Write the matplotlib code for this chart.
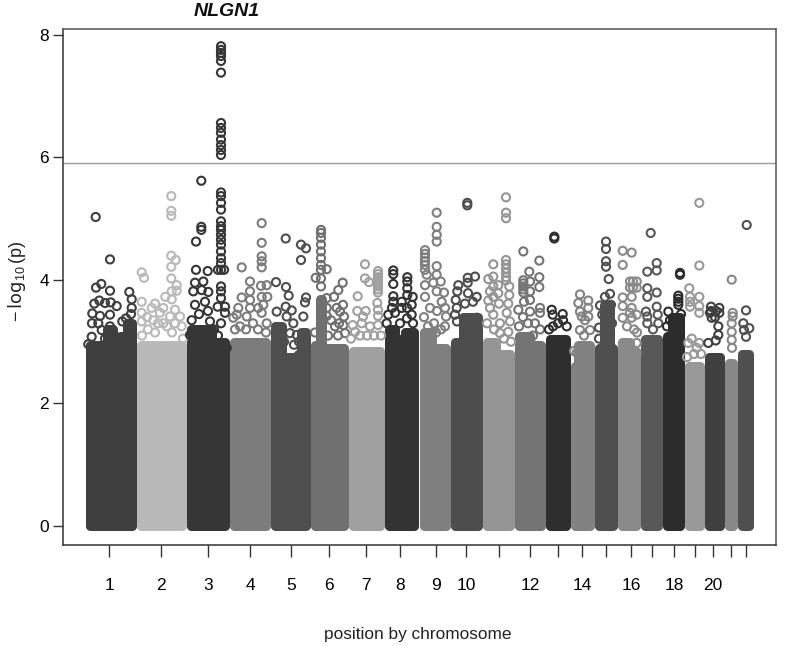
import matplotlib
matplotlib.use('Agg')
import matplotlib.pyplot as plt

plt.rcParams['font.family'] = ['Liberation Sans', 'DejaVu Sans']
plt.rcParams['mathtext.default'] = 'regular'

# Position is in plot units read along the x axis, values are -log10(p)
tick_pos = [109, 161, 208, 250, 291, 329, 366, 400, 436, 466, 499, 530, 558, 582, 606, 631, 652, 674, 695, 713, 731, 746]
tick_labels = ['1', '2', '3', '4', '5', '6', '7', '8', '9', '10', '', '12', '', '14', '', '16', '', '18', '', '20', '', '']
threshold = 5.91

chrom_colors = ['#3f3f3f', '#b9b9b9', '#363636', '#7c7c7c', '#4e4e4e', '#707070', '#a0a0a0', '#333333',
                '#7f7f7f', '#4d4d4d', '#959595', '#747474', '#2e2e2e', '#828282', '#4f4f4f', '#8a8a8a',
                '#585858', '#2c2c2c', '#999999', '#404040', '#888888', '#4f4f4f']

# solid body of each chromosome: (start, height) steps, last entry closes it
body = [
    [(89.5, 2.95), (101, 2.7), (107, 3.2), (113, 2.7), (120, 3.1), (127, 3.3), (131.5, 3.3)],
    [(140.5, 2.95), (181.5, 2.95)],
    [(190.5, 3.2), (212, 2.8), (216, 3.0), (224.5, 3.0)],
    [(233.5, 3.0), (265.5, 3.0)],
    [(274.5, 3.25), (282, 2.75), (298, 2.8), (301, 3.15), (305.5, 3.15)],
    [(314.5, 2.95), (320, 3.7), (322, 2.9), (343.5, 2.9)],
    [(352.5, 2.85), (379.5, 2.85)],
    [(388.5, 3.2), (395, 3.05), (405, 3.15), (413.5, 3.15)],
    [(423.5, 3.15), (432, 2.9), (445.5, 2.9)],
    [(454.5, 3.0), (463, 3.4), (477.5, 3.4)],
    [(486.5, 3.0), (496, 2.8), (509.5, 2.8)],
    [(518.5, 3.1), (530, 2.95), (540.5, 2.95)],
    [(549.5, 3.05), (565.5, 3.05)],
    [(574.5, 2.6), (578, 2.95), (589.5, 2.95)],
    [(598.5, 2.9), (604, 3.6), (610, 2.9), (612.5, 2.9)],
    [(621.5, 3.0), (630, 2.85), (635.5, 2.85)],
    [(644.5, 3.05), (657.5, 3.05)],
    [(666.5, 3.1), (672, 3.4), (679.5, 3.4)],
    [(688.5, 2.6), (699.5, 2.6)],
    [(708.5, 2.75), (719.5, 2.75)],
    [(728.5, 2.65), (732.5, 2.65)],
    [(741.5, 2.8), (748.5, 2.8)],
]

# single SNPs standing above the body
snps = [
    [(95.7, 5.03), (110, 4.34), (96, 3.88), (101.3, 3.94), (110, 3.83), (129.3, 3.81), (94.3, 3.62), (99.3, 3.67),
     (105, 3.63), (110.7, 3.64), (116.7, 3.58), (131.7, 3.69), (92.3, 3.46), (100, 3.42), (98.3, 3.3), (110, 3.44),
     (122.3, 3.33), (131.7, 3.55), (101.7, 3.19), (91.7, 3.08), (88.3, 2.96), (110, 2.87), (101.7, 2.82),
     (92, 3.3), (110, 3.25), (118, 3.05), (126, 3.38), (131, 3.45), (105, 3.05)],
    [(171.3, 5.37), (171.3, 5.13), (171.3, 5.05), (141.7, 4.13), (144, 4.04), (171.3, 4.4), (175.7, 4.33),
     (171.3, 4.22), (171.3, 4.03), (176.7, 3.92), (176.7, 3.83), (171.7, 3.82), (165.3, 3.73), (171.7, 3.69),
     (141.7, 3.65), (155, 3.62), (151.7, 3.55), (163.3, 3.55), (175, 3.52), (141.7, 3.47), (160, 3.47), (180, 3.41),
     (170, 3.41), (141.7, 3.33), (153.3, 3.35), (181.7, 3.25), (163.3, 3.3),
     (147, 3.4), (158, 3.3), (167, 3.25), (175, 3.3), (148, 3.2), (155, 3.15), (142, 3.1), (183, 3.05), (172, 3.15)],
    [(201.3, 5.62), (201.3, 4.87), (201.3, 4.82), (196, 4.63), (196, 4.17), (207.7, 4.15), (195, 3.96), (203.3, 3.98),
     (193.3, 3.82), (201.7, 3.84), (208.3, 3.81), (195, 3.6), (205, 3.65), (217.7, 3.57), (225, 3.57), (225, 3.47),
     (191.7, 3.35), (210, 3.33), (190, 3.11), (226.7, 2.9),
     (221, 7.81), (221, 7.75), (221, 7.7), (221, 7.65), (221, 7.57), (221, 7.38), (221, 6.56), (221, 6.48),
     (221, 6.4), (221, 6.29), (221, 6.2), (221, 6.12), (221, 6.04), (221, 5.43), (221, 5.37), (221, 5.26),
     (221, 5.15), (221, 4.96), (221, 4.88), (221, 4.82), (221, 4.74), (221, 4.66), (221, 4.58), (221, 4.47),
     (221, 4.36), (221, 4.28), (221, 4.17), (218, 4.17), (224, 4.17), (221, 3.9), (221, 3.82), (221, 3.71),
     (199, 3.45), (208, 3.5), (214, 3.2), (221, 3.3), (218, 3.1)],
    [(261.7, 4.93), (261.7, 4.61), (261.7, 4.39), (261.7, 4.31), (261.7, 4.21), (241.7, 4.21), (250, 3.98), (261, 3.91),
     (266.7, 3.92), (250, 3.82), (241.7, 3.72), (261.7, 3.73), (267.3, 3.73), (250, 3.68), (263.3, 3.6), (238.3, 3.55),
     (258.3, 3.55), (250, 3.55), (261.7, 3.47), (236.7, 3.44), (233.3, 3.39), (246.7, 3.41), (266.7, 3.3),
     (240, 3.25), (253, 3.3), (258, 3.2), (246, 3.2), (266, 3.15), (235, 3.2)],
    [(285.7, 4.68), (301, 4.58), (306, 4.52), (301, 4.33), (276, 3.97), (286, 3.89), (288.7, 3.75), (306, 3.72),
     (305, 3.64), (285.7, 3.57), (291.7, 3.51), (276.7, 3.49), (303.3, 3.41), (286.7, 3.41), (293.3, 3.3),
     (296.7, 3.11), (305, 3.03), (290, 3.14), (299, 3.0), (284, 3.0), (294, 2.95)],
    [(321, 4.82), (321, 4.77), (321, 4.69), (321, 4.58), (321, 4.47), (321, 4.36), (321, 4.25), (321, 4.17),
     (321, 4.03), (321, 3.9), (326.7, 4.18), (315.7, 4.04), (342.7, 3.96), (338.3, 3.84), (334, 3.73), (326.7, 3.71),
     (343, 3.6), (340, 3.49), (336.7, 3.55), (326.7, 3.55), (344, 3.41), (343.3, 3.27), (345, 3.14), (335, 3.25),
     (326.7, 3.42), (331, 3.35), (339, 3.3), (328, 3.1), (315, 3.15), (338, 3.1)],
    [(365, 4.26), (365, 4.03), (369, 3.97), (378, 4.15), (378, 4.1), (378, 4.05), (378, 4.0), (378, 3.95), (378, 3.9),
     (378, 3.85), (378, 3.8), (357.7, 3.74), (357.3, 3.5), (365.7, 3.5), (363, 3.41), (377.3, 3.63), (378, 3.52),
     (378, 3.42), (352.7, 3.27), (361.7, 3.3), (378, 3.27), (355, 3.16), (370, 3.25), (367, 3.1), (360, 3.1), (374, 3.1),
     (351, 3.05), (381, 3.1)],
    [(393.3, 4.16), (393.3, 4.1), (407.3, 4.05), (407.3, 3.98), (393.3, 3.94), (407.3, 3.87), (412.7, 3.73),
     (393.3, 3.74), (393.3, 3.65), (401.7, 3.65), (411.7, 3.6), (401.7, 3.55), (388.3, 3.44), (411.7, 3.44),
     (395, 3.47), (413, 3.3), (386.7, 3.3), (400, 3.3), (407.3, 3.76), (407, 3.55), (392, 3.55), (407, 3.38)],
    [(425, 4.49), (425, 4.43), (425, 4.37), (425, 4.31), (425, 4.25), (425, 4.17), (436.7, 5.1), (436.7, 4.87),
     (436.7, 4.74), (436.7, 4.63), (436.7, 4.23), (436.7, 4.09), (440.7, 3.98), (425, 3.92), (426.7, 4.09),
     (433.3, 3.96), (436.7, 3.82), (444, 3.8), (425, 3.73), (441.7, 3.65), (445, 3.55), (446, 3.41), (445, 3.25),
     (430, 3.55), (437, 3.5), (424, 3.4), (434, 3.3), (441, 3.2), (428, 3.25), (436, 3.15)],
    [(467.3, 5.26), (467.3, 5.22), (467.7, 4.04), (475, 4.06), (467.7, 3.96), (458.3, 3.92), (457.3, 3.82),
     (455.7, 3.68), (468, 3.79), (476.7, 3.73), (456.7, 3.55), (455, 3.44), (457, 3.33), (476.7, 3.39), (478, 3.25),
     (473, 3.65), (465, 3.62)],
    [(506, 5.35), (506, 5.1), (506, 5.01), (506, 4.33), (506, 4.26), (506, 4.19), (506, 4.12), (506, 4.05), (506, 4.0),
     (493.3, 4.26), (493.3, 4.06), (488.3, 4.02), (493.3, 3.9), (498.3, 3.92), (490, 3.82), (498.3, 3.79),
     (509.3, 3.9), (509.3, 3.76), (493.3, 3.73), (488.3, 3.67), (499, 3.62), (508.3, 3.62), (490, 3.55), (493.3, 3.44),
     (506.7, 3.47), (510, 3.33), (500, 3.14), (500, 3.3), (508.3, 3.16), (487, 3.3), (494, 3.2), (504, 3.05), (511, 3.0)],
    [(523.3, 4.47), (539.3, 4.32), (529.3, 4.14), (539.3, 4.05), (530, 3.98), (539.3, 3.89), (530, 3.82), (523.3, 4.0),
     (523.3, 3.95), (523.3, 3.9), (523.3, 3.85), (523.3, 3.8), (530, 3.68), (524, 3.65), (518.3, 3.52), (530, 3.49),
     (540, 3.55), (540, 3.47), (523, 3.4), (535, 3.3), (528, 3.3), (540, 3.2), (533, 3.1), (519, 3.25)],
    [(554.3, 4.71), (554.3, 4.68), (551.7, 3.52), (552.7, 3.44), (562.7, 3.45), (553, 3.25), (563, 3.35), (566.7, 3.25),
     (558, 3.3), (549, 3.2)],
    [(580, 3.77), (588.3, 3.67), (578.3, 3.63), (580, 3.49), (588.3, 3.55), (581.7, 3.41), (588.3, 3.41), (580, 3.19),
     (590, 3.19), (576.7, 2.82), (585, 3.35), (584, 3.1), (574, 2.85)],
    [(606, 4.63), (606, 4.51), (606, 4.31), (606, 4.22), (608.7, 4.02), (610, 3.78), (605, 3.73), (600, 3.59),
     (602.3, 3.44), (599, 3.23), (611, 3.6), (612, 3.3), (610, 3.1), (599, 3.05)],
    [(622.7, 4.48), (631.7, 4.45), (622.7, 4.25), (630, 3.98), (636.7, 3.98), (633, 3.98), (630, 3.88), (636.7, 3.88),
     (633, 3.88), (622.7, 3.72), (622.7, 3.58), (631.7, 3.73), (631.7, 3.55), (636.7, 3.44), (630, 3.47), (622.7, 3.39),
     (631.7, 3.39), (636.7, 2.98), (636.7, 2.82), (627, 3.25), (634, 3.2), (637, 3.15)],
    [(650.7, 4.77), (656.7, 4.28), (647.3, 4.14), (656.7, 4.16), (647.3, 3.87), (656.7, 3.8), (647.3, 3.73),
     (656.7, 3.57), (646, 3.49), (647.3, 3.41), (657.7, 3.44), (658.3, 3.3), (647.3, 3.3), (653, 3.2)],
    [(680, 4.12), (680, 4.09), (678.3, 3.75), (678.3, 3.7), (678.3, 3.65), (678.3, 3.6), (668.3, 3.49), (670, 3.35),
     (667, 3.25), (681, 3.45)],
    [(689.3, 3.87), (699.3, 4.24), (699.3, 5.26), (690, 3.73), (699.3, 3.73), (690, 3.57), (699.3, 3.58), (699.3, 3.47),
     (690, 3.65), (691.7, 3.05), (699.3, 2.98), (688.3, 2.98), (696.7, 2.9), (687, 2.75), (694, 2.8), (701, 2.8)],
    [(711, 3.57), (719.3, 3.55), (710, 3.47), (719.3, 3.47), (715, 3.4), (711.7, 3.39), (718.3, 3.25), (718.3, 3.11),
     (715.7, 3.02), (708.3, 2.98), (711, 3.5), (716, 3.5)],
    [(731.7, 4.01), (732.7, 3.47), (731.7, 3.3), (731.7, 3.16), (731.7, 3.03), (732.7, 3.41), (732, 2.9)],
    [(746.7, 4.9), (746, 3.51), (743.3, 3.3), (749.3, 3.22), (744, 3.19), (746, 3.08)],
]

fig = plt.figure(figsize=(8, 6.46), dpi=100)
ax = fig.add_axes([63 / 800, 1 - 545 / 646, 713 / 800, 516 / 646])

for color, steps, points in zip(chrom_colors, body, snps):
    xs = [s[0] for s in steps]
    hs = [s[1] for s in steps]
    ax.fill_between(xs, 0, hs, step='post', facecolor=color, edgecolor=color, linewidth=6.5, joinstyle='round')
    ax.scatter([p[0] for p in points], [p[1] for p in points], s=34, facecolors='none',
               edgecolors=color, linewidths=1.5, zorder=3)

ax.axhline(threshold, color='#9a9a9a', lw=1.0, zorder=1)

ax.set_xlim(63, 776)
ax.set_ylim(-0.309, 8.09)
ax.set_yticks([0, 2, 4, 6, 8])
ax.set_xticks(tick_pos)
ax.set_xticklabels(tick_labels)
ax.tick_params(axis='x', length=8.6, width=1.0, pad=15, labelsize=12.5, color='#333333')
ax.tick_params(axis='y', length=7, width=1.0, pad=3, labelsize=12.5, color='#333333')
for side in ['left', 'bottom', 'top', 'right']:
    ax.spines[side].set_linewidth(1.1)
    ax.spines[side].set_color('#333333')
ax.spines['top'].set_color('#555555')
ax.spines['right'].set_color('#555555')

fig.text(418 / 800, 1 - 634 / 646, 'position by chromosome', ha='center', va='center', fontsize=12.4, color='#222222')
fig.text(17 / 800, 1 - 281 / 646, r'$-\,\log_{10}(p)$', rotation=90, ha='center', va='center', fontsize=13, color='#222222')
fig.text(227 / 800, 1 - 16 / 646, 'NLGN1', ha='center', va='baseline', fontsize=14, fontweight='bold', fontstyle='italic', color='#111111')

fig.savefig('out.png', dpi=100)
